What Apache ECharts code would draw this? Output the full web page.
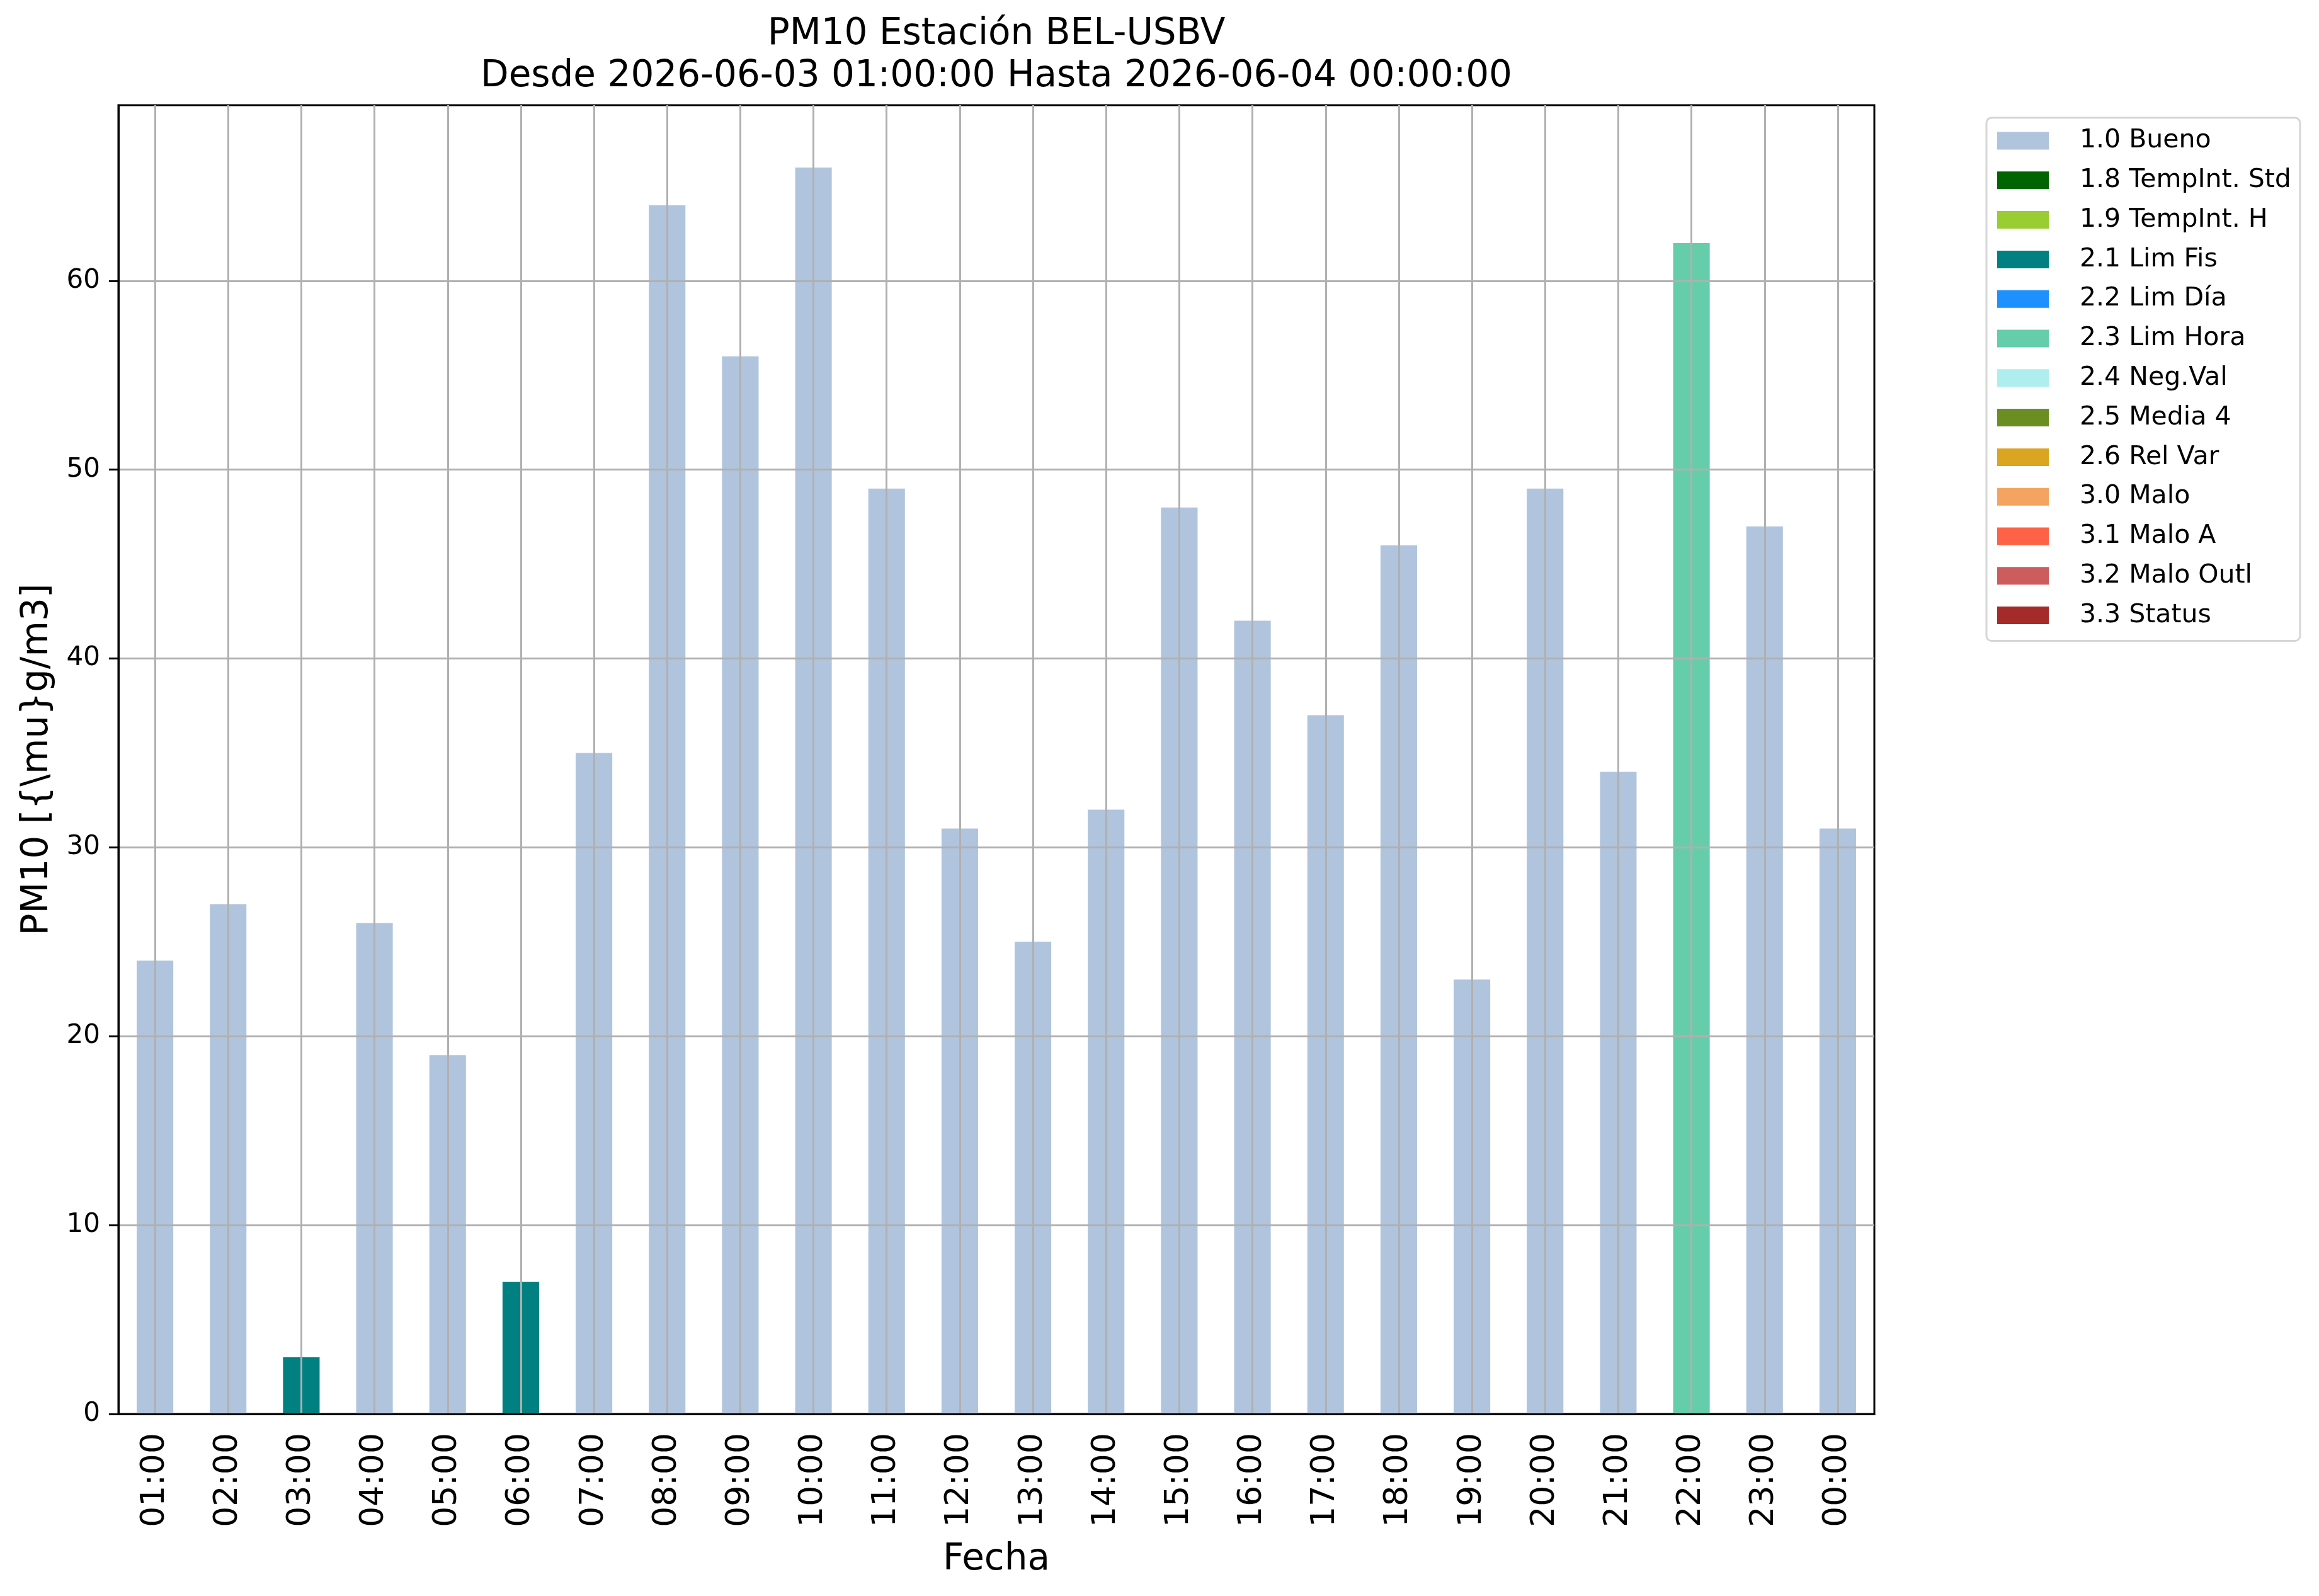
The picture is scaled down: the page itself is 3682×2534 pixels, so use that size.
<!DOCTYPE html>
<html lang="es">
<head>
    <meta charset="UTF-8">
    <title>PM10 Estación BEL-USBV</title>
    <script src="https://cdn.jsdelivr.net/npm/echarts@6/dist/echarts.min.js"></script>
    <style>
        body { margin: 0; background: #fff; }
        #chart { width: 3682px; height: 2534px; }
    </style>
</head>
<body>
<div id="chart"></div>
<script>
    // horas de la ventana
    const hours = ['01:00', '02:00', '03:00', '04:00', '05:00', '06:00', '07:00', '08:00',
        '09:00', '10:00', '11:00', '12:00', '13:00', '14:00', '15:00', '16:00',
        '17:00', '18:00', '19:00', '20:00', '21:00', '22:00', '23:00', '00:00'];
    // valores PM10 por hora
    const values = [24, 27, 3, 26, 19, 7, 35, 64, 56, 66, 49, 31,
        25, 32, 48, 42, 37, 46, 23, 49, 34, 62, 47, 31];
    // codigo de calidad de cada hora
    const flags = ['1.0', '1.0', '2.1', '1.0', '1.0', '2.1', '1.0', '1.0', '1.0', '1.0', '1.0', '1.0',
        '1.0', '1.0', '1.0', '1.0', '1.0', '1.0', '1.0', '1.0', '1.0', '2.3', '1.0', '1.0'];
    // categorias de calidad (leyenda)
    const qualityCodes = ['1.0', '1.8', '1.9', '2.1', '2.2', '2.3', '2.4', '2.5', '2.6', '3.0', '3.1', '3.2', '3.3'];
    const qualityNames = ['1.0 Bueno', '1.8 TempInt. Std', '1.9 TempInt. H', '2.1 Lim Fis', '2.2 Lim Día',
        '2.3 Lim Hora', '2.4 Neg.Val', '2.5 Media 4', '2.6 Rel Var', '3.0 Malo', '3.1 Malo A',
        '3.2 Malo Outl', '3.3 Status'];
    const yTicks = [0, 10, 20, 30, 40, 50, 60];

    const qualityColors = ['#b0c4de', '#006400', '#9acd32', '#008080', '#1e90ff', '#66cdaa', '#afeeee',
        '#6b8e23', '#daa520', '#f4a460', '#ff6347', '#cd5c5c', '#a52a2a'];

    const font = 'DejaVu Sans';
    const gridColor = '#b0b0b0';

    let chart = echarts.init(document.getElementById('chart'));

    const series = qualityCodes.map((code, k) => ({
        name: qualityNames[k],
        type: 'bar',
        stack: 'calidad',
        barWidth: '50%',
        itemStyle: {color: qualityColors[k]},
        data: values.map((v, i) => flags[i] === code ? v : null)
    }));

    chart.setOption({
        animation: false,
        textStyle: {fontFamily: font, color: '#000'},
        title: {
            text: 'PM10 Estación BEL-USBV\nDesde 2026-06-03 01:00:00 Hasta 2026-06-04 00:00:00',
            left: 1582,
            top: 21,
            textAlign: 'center',
            padding: 0,
            textStyle: {fontFamily: font, fontSize: 58, fontWeight: 'normal', color: '#000', lineHeight: 67}
        },
        legend: {
            orient: 'vertical',
            left: 3154,
            top: 187,
            padding: [16, 14, 20, 17],
            itemWidth: 82,
            itemHeight: 28,
            itemGap: 21.8,
            icon: 'rect',
            borderColor: '#d6d6d6',
            borderWidth: 3,
            borderRadius: 8,
            textStyle: {fontFamily: font, fontSize: 41, color: '#000', lineHeight: 40, padding: [0, 0, 0, 44]},
            data: qualityNames
        },
        grid: {
            left: 188,
            top: 167,
            width: 2788,
            height: 2078,
            show: true,
            borderColor: '#000',
            borderWidth: 3,
            containLabel: false,
            outerBoundsMode: 'none'
        },
        xAxis: {
            type: 'category',
            data: hours,
            z: 5,
            name: 'Fecha',
            nameLocation: 'middle',
            nameGap: 203,
            nameTextStyle: {fontFamily: font, fontSize: 58, color: '#000'},
            axisLine: {lineStyle: {color: '#000', width: 3}},
            axisTick: {alignWithLabel: true, length: 15, lineStyle: {color: '#000', width: 3}},
            axisLabel: {interval: 0, rotate: 90, fontSize: 52, margin: 30, color: '#000', fontFamily: font},
            splitLine: {show: true, alignWithLabel: true, lineStyle: {color: gridColor, width: 3}}
        },
        yAxis: {
            type: 'value',
            min: 0,
            max: 69.3,
            interval: 10,
            z: 5,
            name: 'PM10 [{\\mu}g/m3]',
            nameLocation: 'middle',
            nameGap: 99,
            nameTextStyle: {fontFamily: font, fontSize: 58, color: '#000'},
            axisLine: {show: true, lineStyle: {color: '#000', width: 3}},
            axisTick: {show: true, length: 15, customValues: yTicks, lineStyle: {color: '#000', width: 3}},
            axisLabel: {fontSize: 42, margin: 29, color: '#000', fontFamily: font, customValues: yTicks},
            splitLine: {show: true, lineStyle: {color: gridColor, width: 3}}
        },
        series: series
    });
</script>
</body>
</html>
